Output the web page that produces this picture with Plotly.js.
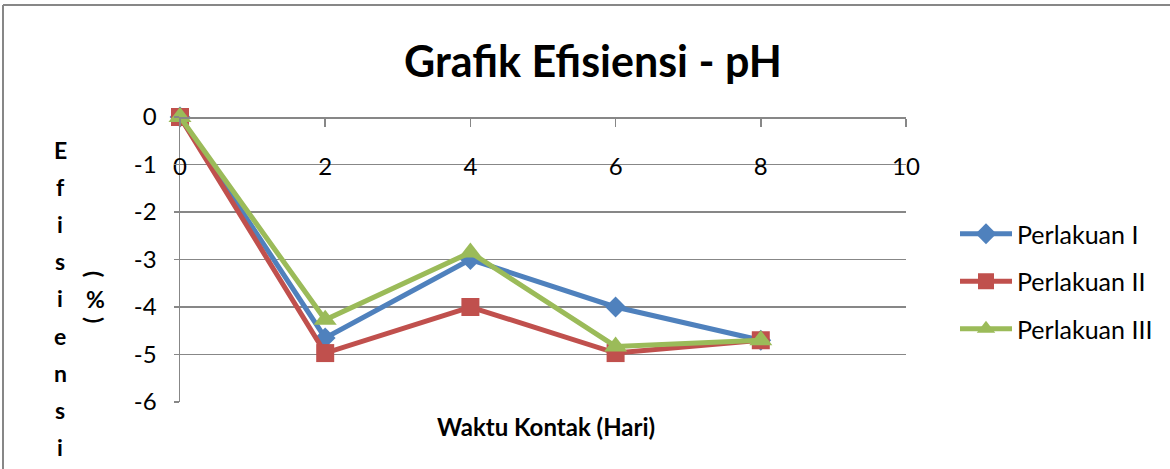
<!DOCTYPE html>
<html>
<head>
<meta charset="utf-8">
<script src="https://cdn.plot.ly/plotly-3.0.1.min.js"></script>
<style>
  html, body { margin: 0; padding: 0; background: #fff; }
  #chart { width: 1170px; height: 469px; }
</style>
</head>
<body>
<div id="chart"></div>
<script>
// ---- data ----
const days = [0, 2, 4, 6, 8];
const perlakuanI = [0, -4.65, -3.0, -4.0, -4.7];
const perlakuanII = [0, -4.97, -4.0, -4.97, -4.7];
const perlakuanIII = [0, -4.27, -2.85, -4.83, -4.7];
const seriesNames = ['Perlakuan I', 'Perlakuan II', 'Perlakuan III'];
const xTicks = [0, 2, 4, 6, 8, 10];
const yTicks = [0, -1, -2, -3, -4, -5, -6];
const yTitleLetters = ['E', 'f', 'i', 's', 'i', 'e', 'n', 's', 'i'];

// ---- layout geometry (pixels) ----
const W = 1170, H = 469;
const L = 180, R = 906, T = 117, B = 402;
const px2x = p => (p - L) / (R - L);
const py2y = p => (B - p) / (B - T);

const FONT = 'Lato, "Open Sans", sans-serif';
const GRID = '#878787';

const colors = ['#4F81BD', '#C0504D', '#9BBB59'];
const symbols = ['diamond', 'square', 'triangle-up'];
const msizes = [16, 18, 20];
const values = [perlakuanI, perlakuanII, perlakuanIII];

const traces = values.map((v, i) => ({
  type: 'scatter',
  mode: 'lines+markers',
  x: days,
  y: v,
  name: seriesNames[i],
  legendgroup: 'g' + i,
  line: { color: colors[i], width: 5 },
  marker: { color: colors[i], symbol: symbols[i], size: msizes[i] },
  cliponaxis: false
}));

const annotations = [];
// x axis title
annotations.push({
  xref: 'paper', yref: 'paper', x: px2x(546), y: py2y(426),
  xanchor: 'center', yanchor: 'middle', showarrow: false,
  text: '<b>Waktu Kontak (Hari)</b>',
  font: { family: FONT, size: 24, color: '#000' }
});
// stacked y title letters
yTitleLetters.forEach((ch, i) => {
  annotations.push({
    xref: 'paper', yref: 'paper', x: px2x(60), y: py2y(150 + i * 37.1),
    xanchor: 'center', yanchor: 'middle', showarrow: false,
    text: '<b>' + ch + '</b>',
    font: { family: FONT, size: 23, color: '#000' }
  });
});
// ( % ) rotated
annotations.push({
  xref: 'paper', yref: 'paper', x: px2x(95), y: py2y(274),
  xanchor: 'center', yanchor: 'middle', showarrow: false, textangle: 90,
  text: '<b>(</b>', font: { family: FONT, size: 23, color: '#000' }
});
annotations.push({
  xref: 'paper', yref: 'paper', x: px2x(95), y: py2y(299),
  xanchor: 'center', yanchor: 'middle', showarrow: false,
  text: '<b>%</b>', font: { family: FONT, size: 23, color: '#000' }
});
annotations.push({
  xref: 'paper', yref: 'paper', x: px2x(95), y: py2y(320),
  xanchor: 'center', yanchor: 'middle', showarrow: false, textangle: 90,
  text: '<b>)</b>', font: { family: FONT, size: 23, color: '#000' }
});

const layout = {
  width: W, height: H,
  margin: { l: L, r: W - R, t: T, b: H - B, pad: 0 },
  paper_bgcolor: '#fff', plot_bgcolor: '#fff',
  showlegend: true,
  title: {
    text: '<b>Grafik Efisiensi - pH</b>',
    font: { family: FONT, size: 43, color: '#000' },
    xref: 'container', yref: 'container',
    x: 593 / W, y: 1 - 62 / H, xanchor: 'center', yanchor: 'middle'
  },
  xaxis: {
    range: [0, 10], tickvals: xTicks, ticktext: xTicks.map(String),
    anchor: 'free', position: 1, side: 'bottom',
    showgrid: false, zeroline: false,
    showline: true, linecolor: GRID, linewidth: 1.5,
    ticks: 'outside', ticklen: 8, tickcolor: GRID, tickwidth: 1.5,
    ticklabelstandoff: 20,
    tickfont: { family: FONT, size: 24, color: '#000' }
  },
  yaxis: {
    range: [-6, 0], tickvals: yTicks, ticktext: yTicks.map(String),
    showgrid: true, gridcolor: GRID, gridwidth: 1.5, zeroline: false,
    showline: true, linecolor: GRID, linewidth: 1.5,
    ticks: 'outside', ticklen: 5, tickcolor: GRID, tickwidth: 1.5,
    ticklabelstandoff: 12,
    tickfont: { family: FONT, size: 24, color: '#000' }
  },
  legend: {
    x: px2x(955), y: py2y(211), xanchor: 'left', yanchor: 'top',
    xref: 'paper', yref: 'paper',
    font: { family: FONT, size: 25, color: '#000' },
    itemwidth: 52, tracegroupgap: 12,
    bgcolor: 'rgba(0,0,0,0)', borderwidth: 0
  },
  annotations: annotations,
  shapes: [
    { type: 'line', xref: 'paper', yref: 'paper', x0: px2x(3), x1: px2x(3), y0: py2y(5), y1: py2y(480),
      line: { color: '#878787', width: 2 } },
    { type: 'line', xref: 'paper', yref: 'paper', x0: px2x(3), x1: px2x(1200), y0: py2y(5), y1: py2y(5),
      line: { color: '#878787', width: 2 } }
  ]
};

Plotly.newPlot('chart', traces, layout, { displayModeBar: false, staticPlot: true });
</script>
</body>
</html>
